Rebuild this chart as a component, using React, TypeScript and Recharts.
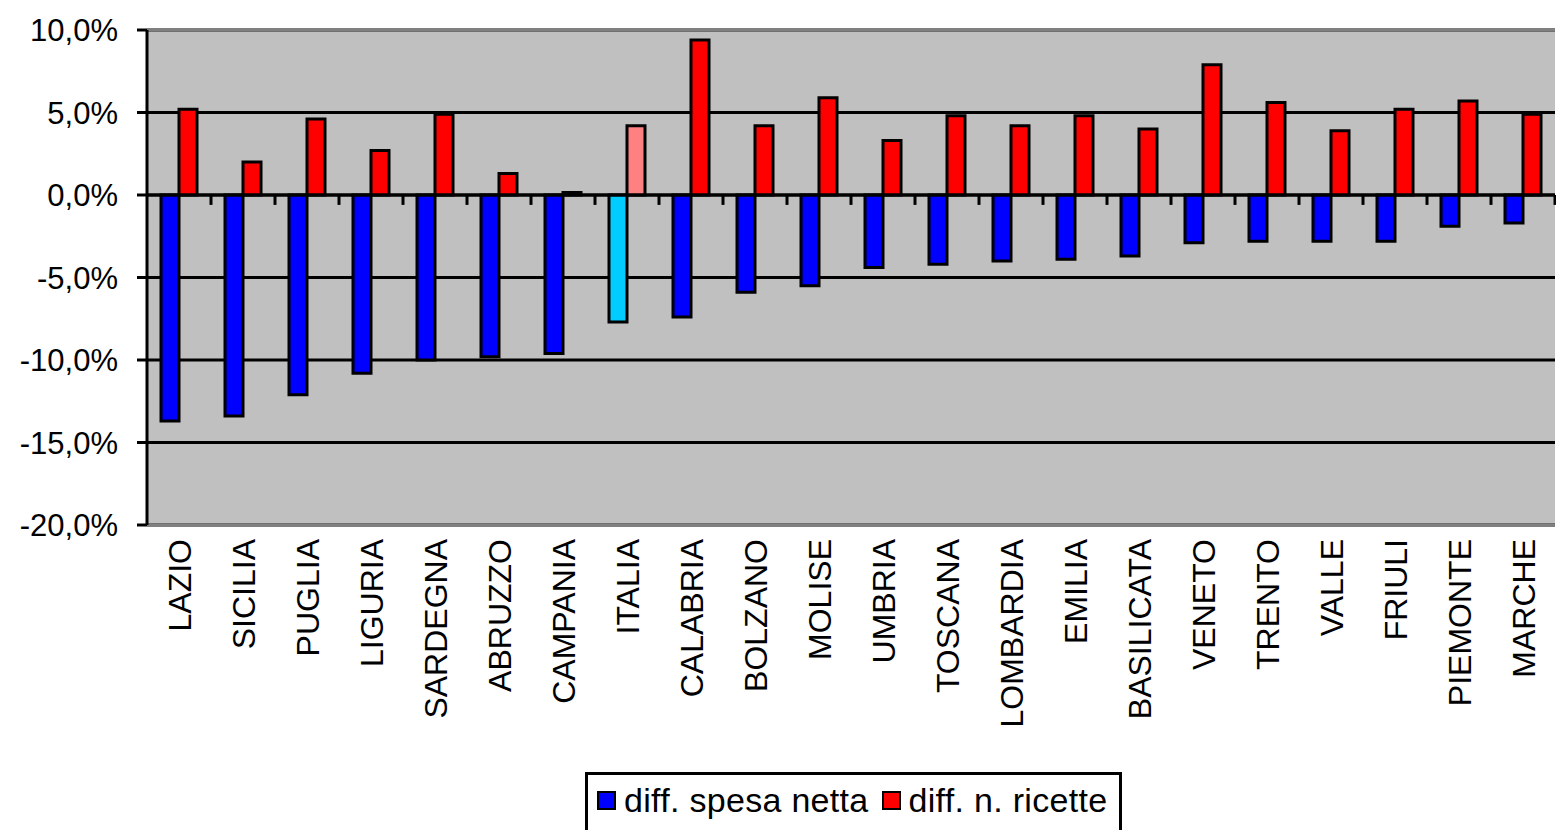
import React from 'react';
import { BarChart, Bar, XAxis, YAxis, CartesianGrid, ReferenceLine, Cell, Legend } from 'recharts';

const categories = ['LAZIO', 'SICILIA', 'PUGLIA', 'LIGURIA', 'SARDEGNA', 'ABRUZZO', 'CAMPANIA', 'ITALIA', 'CALABRIA', 'BOLZANO', 'MOLISE', 'UMBRIA', 'TOSCANA', 'LOMBARDIA', 'EMILIA', 'BASILICATA', 'VENETO', 'TRENTO', 'VALLE', 'FRIULI', 'PIEMONTE', 'MARCHE'];
const spesaNetta = [-13.7, -13.4, -12.1, -10.8, -10.0, -9.8, -9.6, -7.7, -7.4, -5.9, -5.5, -4.4, -4.2, -4.0, -3.9, -3.7, -2.9, -2.8, -2.8, -2.8, -1.9, -1.7];
const nRicette = [5.2, 2.0, 4.6, 2.7, 4.9, 1.3, 0.15, 4.2, 9.4, 4.2, 5.9, 3.3, 4.8, 4.2, 4.8, 4.0, 7.9, 5.6, 3.9, 5.2, 5.7, 4.9];
const yTicks = [-20, -15, -10, -5, 0, 5, 10];
const seriesNames = ['diff. spesa netta', 'diff. n. ricette'];
const seriesColors = ['#0000FF', '#FF0000'];
const highlightCategory = 'ITALIA';
const highlightColors = ['#00CCFF', '#FF8080'];

const data = categories.map((name, i) => ({ name, spesa: spesaNetta[i], ricette: nRicette[i] }));

const FONT = '"Liberation Sans", Arial, sans-serif';

const fmt = (v: number) => v.toFixed(1).replace('.', ',') + '%';

const XTick = (props: any) => {
  const { x, y, payload } = props;
  return (
    <text
      x={0}
      y={0}
      transform={`translate(${x},${y}) rotate(-90)`}
      textAnchor="end"
      dy="0.36em"
      fontSize={32}
      fontFamily={FONT}
      fill="#000"
    >
      {payload.value}
    </text>
  );
};

const LegendBox = () => (
  <div
    style={{
      boxSizing: 'border-box',
      width: 537,
      height: 70,
      border: '3px solid #000',
      background: '#fff',
      display: 'flex',
      alignItems: 'center',
      paddingLeft: 9,
      paddingBottom: 24,
      paddingTop: 10,
      fontFamily: FONT,
      fontSize: 34,
      color: '#000',
      lineHeight: '36px',
    }}
  >
    {seriesNames.map((n, i) => (
      <div key={n} style={{ display: 'flex', alignItems: 'center', marginRight: 13 }}>
        <span
          style={{
            display: 'inline-block',
            boxSizing: 'border-box',
            width: 19,
            height: 19,
            background: seriesColors[i],
            border: '2px solid #000',
            marginRight: 8,
          }}
        />
        <span style={{ whiteSpace: 'nowrap', letterSpacing: '0.3px' }}>{n}</span>
      </div>
    ))}
  </div>
);

export default function App() {
  return (
    <div style={{ position: 'absolute', left: 0, top: 0, width: 1556, height: 830, overflow: 'hidden', background: '#fff' }}>
      <BarChart
        width={1556}
        height={830}
        data={data}
        margin={{ top: 30, right: 1, bottom: 0, left: 0 }}
        barGap={0}
      >
        <CartesianGrid vertical={false} stroke="#000" strokeWidth={3} fill="#C0C0C0" fillOpacity={1} />
        <XAxis
          dataKey="name"
          height={305}
          axisLine={false}
          tickLine={false}
          tickSize={0}
          tickMargin={14}
          interval={0}
          tick={<XTick />}
        />
        <YAxis
          width={147}
          domain={[-20, 10]}
          ticks={yTicks}
          interval={0}
          tickFormatter={fmt}
          tick={{ fontSize: 31, fill: '#000', fontFamily: FONT }}
          tickSize={10}
          tickMargin={19}
          axisLine={{ stroke: '#000', strokeWidth: 3 }}
          tickLine={{ stroke: '#000', strokeWidth: 3 }}
        />
        <ReferenceLine y={10} stroke="#808080" strokeWidth={3} />
        <ReferenceLine y={-20} stroke="#808080" strokeWidth={3} />
        <Bar dataKey="spesa" name={seriesNames[0]} fill={seriesColors[0]} stroke="#000" strokeWidth={3} barSize={18} isAnimationActive={false}>
          {data.map((d) => (
            <Cell key={d.name} fill={d.name === highlightCategory ? highlightColors[0] : seriesColors[0]} stroke="#000" strokeWidth={3} />
          ))}
        </Bar>
        <Bar dataKey="ricette" name={seriesNames[1]} fill={seriesColors[1]} stroke="#000" strokeWidth={3} barSize={18} isAnimationActive={false}>
          {data.map((d) => (
            <Cell key={d.name} fill={d.name === highlightCategory ? highlightColors[1] : seriesColors[1]} stroke="#000" strokeWidth={3} />
          ))}
        </Bar>
        <ReferenceLine y={0} stroke="#000" strokeWidth={3} />
        {categories.map((c) => (
          <ReferenceLine
            key={'t' + c}
            segment={[{ x: c, y: 0 }, { x: c, y: -0.6 }]}
            position="end"
            stroke="#000"
            strokeWidth={3}
          />
        ))}
        <Legend
          layout="vertical"
          align="center"
          verticalAlign="middle"
          wrapperStyle={{ left: 585, top: 772, width: 537, height: 70 }}
          content={<LegendBox />}
        />
      </BarChart>
    </div>
  );
}
